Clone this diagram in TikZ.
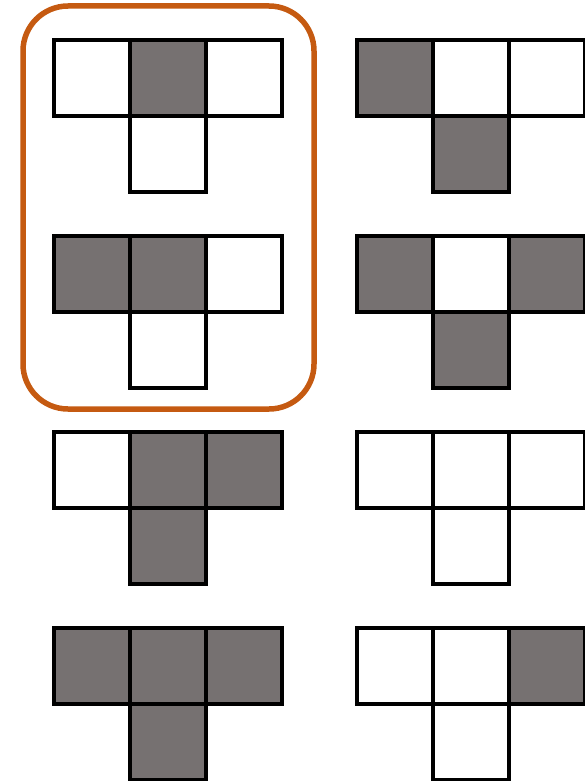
\documentclass[tikz,border=0pt]{standalone}
\usetikzlibrary{positioning}
\definecolor{tgray}{HTML}{767171}
\definecolor{borange}{HTML}{C55A11}
\begin{document}
\begin{tikzpicture}[
  x=1pt, y=-1pt,
  cell/.style={draw,rectangle,minimum size=76pt,inner sep=0pt,outer sep=0pt,line width=4pt},
  lit/.style={cell,fill=tgray},
  blank/.style={cell,fill=white}
]
\clip (0,0) rectangle (585,781);
% the eight T shapes: left, middle, right, bottom cell
\foreach \px/\py/\n/\a/\b/\c/\d in {
    54/40/t1/blank/lit/blank/blank,
    54/236/t2/lit/lit/blank/blank,
    54/432/t3/blank/lit/lit/lit,
    54/628/t4/lit/lit/lit/lit,
    357/40/t5/lit/blank/blank/lit,
    357/236/t6/lit/blank/lit/lit,
    357/432/t7/blank/blank/blank/blank,
    357/628/t8/blank/blank/lit/blank} {
  \node[\a] (\n-l) at (\px+38,\py+38) {};
  \node[\b, right=0pt of \n-l] (\n-m) {};
  \node[\c, right=0pt of \n-m] (\n-r) {};
  \node[\d, below=0pt of \n-m] (\n-b) {};
}
% selection frame
\draw[borange, line width=5.5pt, rounded corners=45pt] (23,6) rectangle (314,409);
\end{tikzpicture}
\end{document}
